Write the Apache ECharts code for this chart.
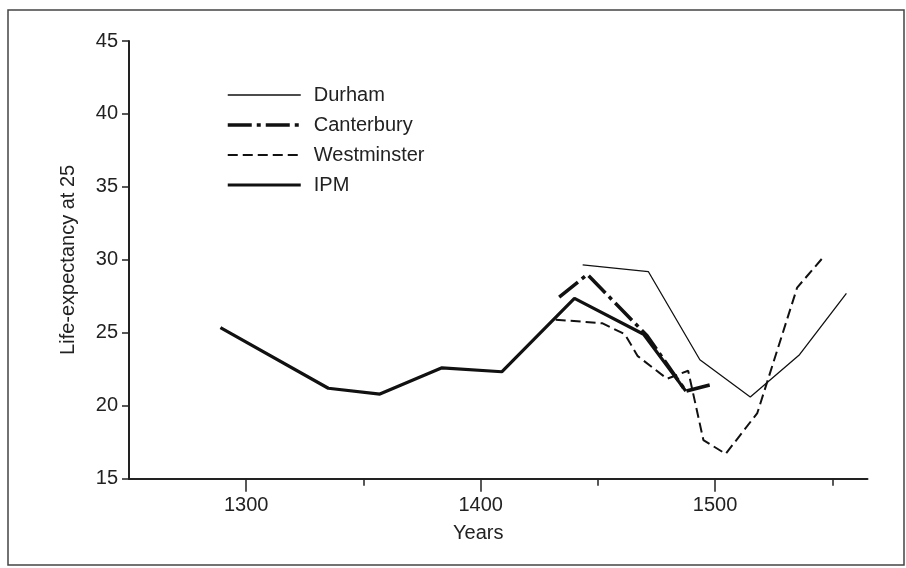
<!DOCTYPE html>
<html>
<head>
<meta charset="utf-8">
<script src="https://cdn.jsdelivr.net/npm/echarts@6/dist/echarts.min.js"></script>
<style>
html,body{margin:0;padding:0;background:#fff;}
#c{width:906px;height:568px;}
</style>
</head>
<body>
<div id="c"></div>
<script>
// ---- data ----
var durham = [[1443.5,29.65],[1471.5,29.2],[1493.5,23.15],[1515,20.6],[1536,23.5],[1556,27.7]];
var canterbury = [[1433.5,27.45],[1445.5,29.0],[1471,24.8],[1487.5,21.0],[1499.5,21.5]];
var westminster = [[1432,25.9],[1452,25.65],[1461.5,24.9],[1467,23.4],[1479.5,21.85],[1488.5,22.4],[1495,17.65],[1504.5,16.7],[1518,19.5],[1535,28.1],[1546.5,30.25]];
var ipm = [[1289,25.35],[1335,21.2],[1357,20.8],[1383.5,22.6],[1409,22.33],[1440,27.36],[1469.5,24.9],[1487.5,21.0]];
var seriesNames = ['Durham','Canterbury','Westminster','IPM'];
var xMajorTicks = [1300,1400,1500];
var xMinorTicks = [1350,1450,1550];
var xTitle = 'Years';
var yTitle = 'Life-expectancy at 25';

var FONT = 'Liberation Sans, Arial, Helvetica, sans-serif';
var INK = '#111';
var styles = [
  {width:1.3, type:'solid'},
  {width:3.5, type:[24,5,4,5]},
  {width:2, type:[10,5]},
  {width:3.2, type:'solid'}
];
var seriesData = [durham, canterbury, westminster, ipm];

var chart = echarts.init(document.getElementById('c'), null, {renderer:'canvas'});
var option = {
  backgroundColor:'#fff',
  animation:false,
  graphic:[{
    type:'rect', silent:true, z:-1,
    shape:{x:8, y:10, width:896, height:555},
    style:{fill:'none', stroke:'#444', lineWidth:1.5}
  }],
  legend:{
    orient:'vertical', left:221, top:80,
    itemWidth:73, itemHeight:20, itemGap:10,
    data:seriesNames.map(function(n,i){
      return {name:n, lineStyle:{width:styles[i].width, type:styles[i].type, color:INK}};
    }),
    itemStyle:{opacity:0},
    textStyle:{fontFamily:FONT, fontSize:20, color:'#222', padding:[0,0,0,8]}
  },
  grid:{left:129, right:38.5, top:41, bottom:89.3, containLabel:false},
  xAxis:[{
    type:'value', min:1250, max:1565,
    name:xTitle, nameLocation:'middle', nameGap:45,
    nameTextStyle:{fontFamily:FONT, fontSize:20, color:'#222', padding:[0,40,0,0]},
    axisLine:{show:true, lineStyle:{color:'#222', width:2}},
    axisTick:{show:true, length:13, lineStyle:{color:'#222', width:1.5}, customValues:xMajorTicks},
    axisLabel:{show:true, margin:17, fontFamily:FONT, fontSize:20, color:'#222', customValues:xMajorTicks,
      formatter:function(v){return String(v);}},
    splitLine:{show:false}
  },{
    type:'value', min:1250, max:1565, position:'bottom',
    axisLine:{show:false},
    axisTick:{show:true, length:7, lineStyle:{color:'#222', width:1.5}, customValues:xMinorTicks},
    axisLabel:{show:false},
    splitLine:{show:false}
  }],
  yAxis:{
    type:'value', min:15, max:45, interval:5,
    name:yTitle, nameLocation:'middle', nameGap:51, nameRotate:90,
    nameTextStyle:{fontFamily:FONT, fontSize:20, color:'#222'},
    axisLine:{show:true, lineStyle:{color:'#222', width:2}},
    axisTick:{show:true, length:7, lineStyle:{color:'#222', width:1.5}},
    axisLabel:{margin:11, fontFamily:FONT, fontSize:20, color:'#222'},
    splitLine:{show:false}
  },
  series:seriesNames.map(function(n,i){
    return {name:n, type:'line', data:seriesData[i], showSymbol:false, symbol:'none',
      lineStyle:{color:INK, width:styles[i].width, type:styles[i].type}, itemStyle:{color:INK}};
  })
};
chart.setOption(option);
</script>
</body>
</html>
